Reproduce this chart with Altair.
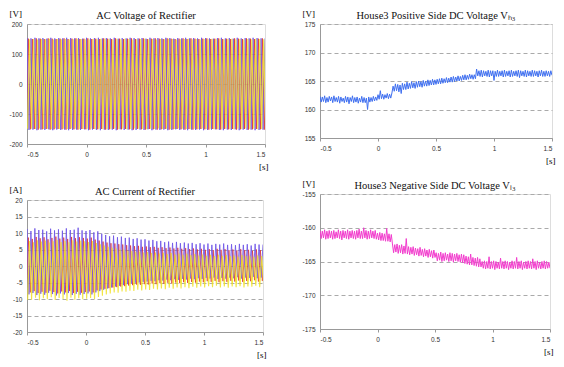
import altair as alt
import pandas as pd

# ---------------- data ----------------
X_TICKS = [-0.5, 0, 0.5, 1, 1.5]
CYCLES_T0 = -0.5
CYCLE_PERIOD = 1 / 30

# AC voltage: peak amplitude of each cycle, per phase [V]
v_purple = [153,152,154,152,153,151,154,152,153,152,154,153,152,153,151,154,152,153,154,152,
            153,152,154,151,153,152,154,153,152,153,151,154,152,153,152,154,153,151,153,152,
            154,152,153,152,154,153,152,151,153,154,152,153,151,154,152,153,152,154,153,152]
v_red = [151,150,152,151,150,152,151,150,151,152,150,151,152,150,151,152,150,151,150,152,
         151,150,152,151,150,151,152,150,151,152,150,151,152,151,150,152,151,150,151,152,
         150,152,151,150,151,152,150,151,152,150,151,150,152,151,150,152,151,150,151,152]
v_yellow = [149,150,148,150,149,151,148,150,149,150,148,149,151,150,149,148,150,149,151,150,
            149,148,150,149,151,150,148,149,150,151,149,150,148,150,149,151,150,148,149,150,
            151,149,150,148,150,149,151,150,149,148,150,151,149,150,148,150,149,151,150,149]

# AC current: positive / negative peak of each cycle, per phase [A]
i_purple_pos = [11.2,10.6,11.4,10.9,11.0,10.5,11.3,10.8,11.1,10.7,11.4,10.9,11.0,11.6,10.8,
                10.6,10.9,10.2,10.5,9.8,
                9.4,9.0,9.2,8.7,8.9,8.5,8.6,8.2,8.4,8.0,
                8.1,7.7,7.9,7.5,7.6,7.2,7.4,7.0,7.3,6.9,
                7.1,6.8,7.0,6.6,6.9,6.5,6.8,6.4,6.7,6.5,
                6.8,6.4,6.6,6.3,6.7,6.4,6.6,6.2,6.7,6.5]
i_purple_neg = [-8.6,-8.2,-8.8,-8.4,-8.7,-8.1,-8.5,-8.9,-8.3,-8.6,-8.2,-8.8,-8.4,-8.7,-8.5,
                -8.3,-8.6,-8.0,-7.6,-7.2,
                -6.8,-6.5,-6.2,-6.0,-5.8,-5.5,-5.4,-5.1,-5.0,-4.8,
                -4.7,-4.5,-4.6,-4.3,-4.4,-4.1,-4.3,-4.0,-4.2,-3.9,
                -4.1,-3.8,-4.0,-3.7,-3.9,-3.6,-3.8,-3.5,-3.9,-3.6,
                -3.8,-3.5,-3.7,-3.4,-3.8,-3.5,-3.6,-3.3,-3.7,-3.5]
i_red_pos = [8.6,8.2,8.8,8.4,8.7,8.1,8.5,8.9,8.3,8.6,8.2,8.8,8.4,8.7,8.5,
             8.3,8.6,8.0,7.7,7.4,
             7.1,6.9,6.8,6.6,6.5,6.3,6.2,6.0,6.1,5.8,
             5.9,5.7,5.8,5.5,5.7,5.4,5.6,5.3,5.5,5.2,
             5.4,5.1,5.3,5.0,5.2,4.9,5.1,4.8,5.2,4.9,
             5.1,4.8,5.0,4.7,5.1,4.8,4.9,4.6,5.0,4.8]
i_red_neg = [-8.0,-7.6,-8.2,-7.8,-8.1,-7.5,-7.9,-8.3,-7.7,-8.0,-7.6,-8.2,-7.8,-8.1,-7.9,
             -7.7,-8.0,-7.4,-7.1,-6.9,
             -6.7,-6.5,-6.4,-6.2,-6.1,-5.9,-5.8,-5.6,-5.7,-5.5,
             -5.6,-5.3,-5.5,-5.2,-5.4,-5.1,-5.3,-5.0,-5.2,-4.9,
             -5.1,-4.8,-5.0,-4.7,-4.9,-4.6,-4.8,-4.5,-4.9,-4.6,
             -4.8,-4.5,-4.7,-4.4,-4.8,-4.5,-4.6,-4.3,-4.7,-4.5]
i_yellow_pos = [7.6,7.2,7.8,7.4,7.7,7.1,7.5,7.9,7.3,7.6,7.2,7.8,7.4,7.7,7.5,
                7.3,7.6,7.0,6.6,6.2,
                5.8,5.5,5.3,5.0,4.9,4.6,4.5,4.3,4.4,4.1,
                4.2,3.9,4.1,3.8,4.0,3.6,3.9,3.5,3.8,3.4,
                3.7,3.3,3.6,3.2,3.5,3.1,3.4,3.0,3.4,3.1,
                3.3,3.0,3.2,2.9,3.3,3.0,3.1,2.8,3.2,3.0]
i_yellow_neg = [-10.2,-9.6,-10.4,-9.8,-10.1,-9.5,-10.3,-9.7,-10.0,-10.5,-9.6,-10.2,-9.8,-10.1,-9.9,
                -9.7,-10.0,-9.4,-9.0,-8.6,
                -8.3,-8.0,-8.1,-7.7,-7.8,-7.5,-7.6,-7.2,-7.4,-7.1,
                -7.3,-6.9,-7.1,-6.8,-7.0,-6.6,-6.9,-6.5,-6.8,-6.4,
                -6.7,-6.3,-6.6,-6.2,-6.5,-6.1,-6.4,-6.0,-6.5,-6.2,
                -6.6,-6.2,-6.4,-6.1,-6.5,-6.2,-6.3,-6.0,-6.4,-6.2]

# DC voltages sampled every 0.01 s from -0.5 s to 1.5 s [V]
DC_T0 = -0.5
DC_STEP = 0.01
vh3 = [162.3,161.3,162.2,161.4,162.4,161.2,162.1,161.3,162.3,161.5,
       162.2,161.2,162.4,161.4,162.1,161.3,162.3,161.1,162.2,161.4,
       162.0,161.2,162.3,161.3,162.2,161.0,162.1,161.4,162.4,161.2,
       162.1,161.3,162.2,161.1,162.0,161.3,162.3,161.2,162.1,161.2,
       162.0,160.0,162.2,161.3,162.1,161.4,162.3,161.5,162.2,161.6,
       162.6,161.8,163.3,161.9,162.7,161.8,162.6,162.0,162.8,161.9,162.7,162.0,162.9,
       164.1,163.2,164.5,163.3,164.4,163.1,164.3,162.8,164.6,163.5,
       164.5,163.5,164.8,163.6,164.6,163.7,164.9,163.8,164.7,163.7,
       164.9,163.9,165.0,164.0,164.9,163.9,165.1,164.1,165.0,164.1,
       165.2,164.2,165.1,164.3,165.3,164.3,165.2,164.4,165.3,164.5,
       165.4,164.5,165.5,164.6,165.4,164.7,165.6,164.7,165.5,164.8,
       165.7,164.8,165.8,164.9,165.7,165.0,165.9,165.0,165.8,165.1,
       166.0,165.2,166.1,165.2,166.0,165.3,166.2,165.4,166.1,165.3,
       166.1,165.4,167.1,
       165.9,166.8,165.8,166.9,165.7,166.8,165.9,166.7,165.8,166.9,
       165.7,166.8,165.9,166.8,165.1,166.7,165.8,166.9,165.8,166.7,
       165.9,166.8,165.7,166.9,165.8,166.7,165.9,166.8,165.7,166.9,
       165.8,166.7,165.9,166.8,165.8,166.9,165.6,166.8,165.9,166.7,
       165.8,166.9,165.7,166.8,165.9,166.7,165.8,166.9,165.8,166.8,
       165.9,166.7,165.7,166.8,165.9,166.9,165.8,166.7,165.8,166.8,
       165.9,166.7,165.8,166.8,166.0]
vl3 = [-160.4,-161.6,-160.5,-161.5,-160.3,-161.7,-160.5,-161.6,-160.4,-161.5,
       -160.5,-161.7,-160.4,-161.6,-160.6,-161.5,-160.3,-161.6,-160.5,-161.8,
       -160.4,-161.5,-160.5,-161.6,-160.3,-161.7,-160.5,-161.5,-160.4,-161.6,
       -160.5,-161.7,-160.4,-161.5,-160.2,-161.6,-160.5,-161.6,-160.0,-161.5,
       -160.4,-161.7,-160.5,-161.6,-160.3,-161.5,-160.5,-161.6,-160.4,-161.7,
       -160.8,-161.8,-160.7,-161.9,-160.8,-161.9,-160.9,-162.0,-160.1,-162.0,-160.9,-162.1,-161.0,
       -162.4,-163.7,-162.5,-163.6,-162.4,-163.8,-162.6,-163.7,-162.5,-163.9,
       -162.7,-163.8,-161.6,-163.9,-162.8,-164.0,-162.9,-163.9,-162.8,-164.1,
       -163.0,-164.0,-163.1,-164.2,-162.9,-164.1,-163.2,-164.3,-163.1,-164.2,
       -163.3,-164.4,-163.2,-164.3,-163.4,-164.5,-163.3,-164.4,
       -163.7,-164.9,-163.8,-164.8,-163.6,-165.0,-163.8,-164.9,-163.7,-164.8,
       -163.9,-165.0,-163.7,-164.9,-163.8,-165.1,-163.9,-164.9,-163.8,-165.0,
       -164.0,-165.1,-163.9,-165.2,-164.0,
       -165.3,-164.2,-165.4,-164.3,-165.5,-163.9,-165.5,-164.4,-165.6,-164.5,-165.7,-164.4,-165.8,-164.6,-165.8,
       -165.0,-166.0,-164.9,-166.1,-165.0,-166.0,-164.3,-166.1,-165.0,-166.0,
       -164.9,-166.2,-165.0,-166.0,-165.1,-166.1,-164.5,-166.0,-165.0,-166.1,
       -164.9,-166.0,-165.0,-166.2,-165.1,-166.0,-164.9,-166.1,-165.0,-166.0,
       -164.4,-166.1,-165.0,-166.0,-164.9,-166.2,-165.1,-166.0,-165.0,-166.1,
       -164.9,-166.0,-165.0,-166.1,-164.6,-166.0,-165.0,-166.2,-164.9,-166.0,
       -165.1,-166.1,-165.0,-166.0,-164.9,-166.1,-165.0,-166.0,-165.1,-166.0]

PHASE_OFFSETS = [0.0, 1 / 3, 2 / 3]
PURPLE, RED, YELLOW = "#6f55e6", "#dc3b3b", "#f0e024"
BLUE, MAGENTA = "#3f6ff0", "#f23ccd"


# ---------------- tables ----------------
def wave_table(pos, neg, offset):
    rows = []
    half = CYCLE_PERIOD / 2
    start = CYCLES_T0 + offset * CYCLE_PERIOD
    rows.append((start - half, neg[0]))
    for k in range(len(pos)):
        tp = start + k * CYCLE_PERIOD
        rows.append((tp, pos[k]))
        rows.append((tp + half, neg[k]))
    rows.append((rows[-1][0] + half, pos[-1]))
    return pd.DataFrame({"i": range(len(rows)), "t": [r[0] for r in rows], "v": [r[1] for r in rows]})


def dc_table(vals):
    return pd.DataFrame({"i": range(len(vals)),
                         "t": [DC_T0 + DC_STEP * i for i in range(len(vals))],
                         "v": vals})


SERIF = "Liberation Serif"
SANS = "Liberation Sans"
LABEL_SIZE = 6.5


def x_enc(width):
    return alt.X("t:Q", scale=alt.Scale(domain=[-0.5, 1.5], nice=False, zero=False),
                 axis=alt.Axis(values=X_TICKS, labelExpr="'' + datum.value", grid=False,
                               title="[s]", titleX=width + 3, titleY=22, titleAlign="right",
                               titleBaseline="middle", titleFont=SERIF, titleFontSize=9,
                               titleFontWeight="normal", ticks=True, tickSize=3,
                               tickColor="#999", labelPadding=4, labelFont=SANS,
                               labelFontSize=LABEL_SIZE, labelColor="#333",
                               domainColor="#999"))


def y_enc(domain, ticks, unit):
    return alt.Y("v:Q", scale=alt.Scale(domain=domain, nice=False, zero=False),
                 axis=alt.Axis(values=ticks, labelExpr="'' + datum.value", grid=True,
                               gridDash=[4, 3], gridColor="#aaaaaa", ticks=False,
                               title=unit, titleAngle=0, titleX=-18, titleY=-11,
                               titleAlign="left", titleBaseline="middle", titleFont=SERIF,
                               titleFontSize=9, titleFontWeight="normal", labelPadding=5,
                               labelFont=SANS, labelFontSize=LABEL_SIZE, labelColor="#333",
                               domainColor="#999"))


def line_layer(df, color, domain, ticks, unit, width, sw=1.0, op=0.85):
    return alt.Chart(df).mark_line(color=color, strokeWidth=sw, opacity=op, clip=True).encode(
        x=x_enc(width), y=y_enc(domain, ticks, unit), order="i:Q")


def panel(layers, title, width, height):
    return alt.layer(*layers).properties(
        width=width, height=height,
        title=alt.TitleParams(title, font=SERIF, fontSize=10.5, fontWeight="normal",
                              color="#111", offset=-12, anchor="middle"))


# top-left: AC voltage
W_TL, H_TL = 238, 120
V_TICKS = [-200, -100, 0, 100, 200]
tl = panel([
    line_layer(wave_table(v_red, [-a for a in v_red], PHASE_OFFSETS[1]), RED,
               [-200, 200], V_TICKS, "[V]", W_TL),
    line_layer(wave_table(v_purple, [-a for a in v_purple], PHASE_OFFSETS[0]), PURPLE,
               [-200, 200], V_TICKS, "[V]", W_TL),
    line_layer(wave_table(v_yellow, [-a for a in v_yellow], PHASE_OFFSETS[2]), YELLOW,
               [-200, 200], V_TICKS, "[V]", W_TL, 1.1),
], "AC Voltage of Rectifier", W_TL, H_TL)

# bottom-left: AC current
W_BL, H_BL = 236, 132
I_TICKS = [-20, -15, -10, -5, 0, 5, 10, 15, 20]
bl = panel([
    line_layer(wave_table(i_red_pos, i_red_neg, PHASE_OFFSETS[1]), RED,
               [-20, 20], I_TICKS, "[A]", W_BL),
    line_layer(wave_table(i_purple_pos, i_purple_neg, PHASE_OFFSETS[0]), PURPLE,
               [-20, 20], I_TICKS, "[A]", W_BL),
    line_layer(wave_table(i_yellow_pos, i_yellow_neg, PHASE_OFFSETS[2]), YELLOW,
               [-20, 20], I_TICKS, "[A]", W_BL, 1.1),
], "AC Current of Rectifier", W_BL, H_BL)

# top-right: positive DC voltage
W_TR, H_TR = 232, 114
tr = panel([
    line_layer(dc_table(vh3), BLUE, [155, 175], [155, 160, 165, 170, 175], "[V]", W_TR, 1.0, 1.0),
], "House3 Positive Side DC Voltage V\u2095\u2083", W_TR, H_TR)

# bottom-right: negative DC voltage
W_BR, H_BR = 230, 135
br = panel([
    line_layer(dc_table(vl3), MAGENTA, [-175, -155], [-175, -170, -165, -160, -155], "[V]", W_BR, 1.0, 1.0),
], "House3 Negative  Side DC Voltage V\u2097\u2083", W_BR, H_BR)

left = alt.vconcat(tl, bl, spacing=56, bounds="flush")
right = alt.vconcat(tr, br, spacing=56, bounds="flush")

chart = alt.hconcat(left, right, spacing=32).properties(
    padding={"left": 0, "top": 0, "right": 0, "bottom": 0}
).configure_view(
    stroke="#999999", strokeWidth=1
).configure(background="white")

chart.save("out.html", embed_options={"renderer": "svg", "actions": False})
